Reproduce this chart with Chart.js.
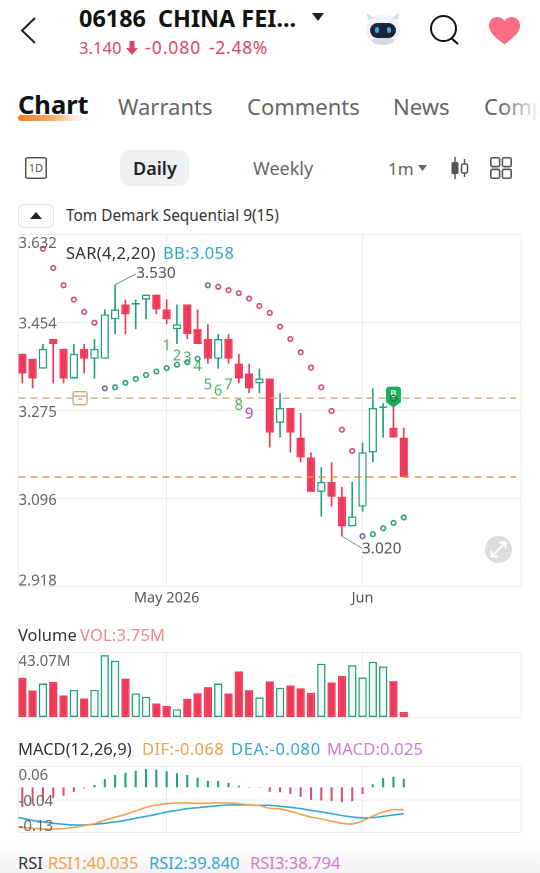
<!DOCTYPE html>
<html><head><meta charset="utf-8">
<script src="https://cdn.jsdelivr.net/npm/chart.js@4/dist/chart.umd.min.js"></script>
<style>
html,body{margin:0;padding:0;background:#fff;width:540px;height:873px;overflow:hidden;font-family:"Noto Sans",sans-serif}
#page{position:relative;width:540px;height:873px;overflow:hidden;background:#fff}
canvas{position:absolute;left:0}
.t{position:absolute;white-space:nowrap;line-height:1;transform:translateY(-50%)}
svg.i{position:absolute;overflow:visible}
#fade{position:absolute;left:0;top:842px;width:540px;height:31px;background:linear-gradient(#fff,#f2f2f2)}
</style></head><body><div id="page">
<div id="fade"></div>
<svg class="i" style="left:20px;top:17px" width="16" height="27"><polyline points="15,1 2,13.5 15,26" fill="none" stroke="#222" stroke-width="2"/></svg>
<span class="t" style="left:79px;top:19px;font-size:23.4px;font-weight:700;color:#111">06186&nbsp; CHINA FEI...</span>
<svg class="i" style="left:312px;top:13px" width="12" height="8"><polygon points="0,0 12,0 6,8" fill="#222"/></svg>
<span class="t" style="left:79px;top:48px;font-size:16.6px;color:#d94a68">3.140</span>
<svg class="i" style="left:126px;top:41px" width="12" height="14"><path d="M3.5 0h5v7h3.5L6 14 0 7h3.5z" fill="#d94a68"/></svg>
<span class="t" style="left:145px;top:48px;font-size:17.5px;letter-spacing:1px;color:#d94a68">-0.080</span>
<span class="t" style="left:209px;top:48px;font-size:17.5px;letter-spacing:.7px;color:#d94a68">-2.48%</span>
<svg class="i" style="left:364px;top:13px" width="38" height="33">
<path d="M5 7 L3 1 L10 5 M33 7 L35 1 L28 5" fill="#d5dde6" stroke="#d5dde6"/>
<ellipse cx="19" cy="17" rx="17" ry="15" fill="#eef1f5"/><ellipse cx="19" cy="28" rx="11" ry="4" fill="#d5dae2"/>
<rect x="6" y="10" width="26" height="15" rx="7.5" fill="#1a2436"/>
<ellipse cx="13" cy="17" rx="2" ry="3" fill="#35b2f5"/><ellipse cx="25" cy="17" rx="2" ry="3" fill="#35b2f5"/></svg>
<svg class="i" style="left:430px;top:15px" width="29" height="30"><circle cx="13.5" cy="13.5" r="12.5" fill="none" stroke="#111" stroke-width="2"/><line x1="21" y1="23" x2="28" y2="29" stroke="#111" stroke-width="2.2"/></svg>
<svg class="i" style="left:489px;top:17px" width="31" height="28"><path d="M15.5 27.5C5 19.5 0 15 0 8.5 0 3.5 3.8 0 8.2 0c3 0 5.7 1.4 7.3 4C17.1 1.4 19.8 0 22.8 0 27.2 0 31 3.5 31 8.5c0 6.5-5 11-15.5 19z" fill="#fd6d85"/></svg>

<div style="position:absolute;left:18px;top:115px;width:64px;height:5.5px;border-radius:4px 0 0 4px;background:linear-gradient(90deg,#f08020,#f5a868 50%,rgba(255,225,200,0))"></div>
<span class="t" style="left:18px;top:105px;font-size:25.5px;font-weight:700;color:#111">Chart</span>
<span class="t" style="left:118px;top:106px;font-size:22px;color:#666">Warrants</span>
<span class="t" style="left:247px;top:106px;font-size:22px;color:#666">Comments</span>
<span class="t" style="left:393px;top:106px;font-size:22px;color:#666">News</span>
<span class="t" style="left:484px;top:106px;font-size:22px;color:#666">Comp</span>
<div style="position:absolute;left:500px;top:90px;width:40px;height:32px;background:linear-gradient(90deg,rgba(255,255,255,0),#fff)"></div>

<svg class="i" style="left:25px;top:157px" width="22" height="22"><rect x=".75" y=".75" width="20.5" height="20.5" rx="2" fill="none" stroke="#555" stroke-width="1.5"/><text x="11" y="15" font-size="11" text-anchor="middle" fill="#555" font-family="Noto Sans">1D</text></svg>
<div style="position:absolute;left:120px;top:150px;width:69px;height:36px;border-radius:10px;background:#eef0f2"></div>
<span class="t" style="left:133px;top:168px;font-size:18px;font-weight:600;color:#222">Daily</span>
<span class="t" style="left:253px;top:168px;font-size:18px;color:#666">Weekly</span>
<span class="t" style="left:388px;top:168px;font-size:17px;color:#666">1m</span>
<svg class="i" style="left:418px;top:165px" width="9" height="6"><polygon points="0,0 9,0 4.5,6" fill="#666"/></svg>
<svg class="i" style="left:450px;top:157px" width="19" height="22"><line x1="5" y1="0" x2="5" y2="22" stroke="#555" stroke-width="1.5"/><rect x="1.5" y="5" width="7" height="12" rx="1.5" fill="#555"/><line x1="14.5" y1="2" x2="14.5" y2="20" stroke="#555" stroke-width="1.5"/><rect x="11.5" y="7" width="6" height="9" rx="1.5" fill="#fff" stroke="#555" stroke-width="1.5"/></svg>
<svg class="i" style="left:490px;top:157px" width="22" height="22" fill="none" stroke="#555" stroke-width="1.6"><rect x=".8" y=".8" width="8.8" height="8.8" rx="1.5"/><rect x="12.4" y=".8" width="8.8" height="8.8" rx="1.5"/><rect x=".8" y="12.4" width="8.8" height="8.8" rx="1.5"/><rect x="12.4" y="12.4" width="8.8" height="8.8" rx="1.5"/></svg>
<div style="position:absolute;left:18px;top:204px;width:34px;height:22px;border:1px solid #e0e0e0;border-radius:6px"></div>
<svg class="i" style="left:30px;top:212px" width="12" height="7"><polygon points="0,7 12,7 6,0" fill="#222"/></svg>
<span class="t" style="left:66px;top:216px;font-size:15.4px;color:#333">Tom Demark Sequential 9(15)</span>

<canvas id="priceChart" style="top:225px" width="540" height="385"></canvas>
<canvas id="volChart" style="top:640px" width="540" height="90"></canvas>
<canvas id="macdChart" style="top:754px" width="540" height="91"></canvas>

<span class="t" style="left:66px;top:253px;font-size:16.5px;letter-spacing:.3px;color:#333">SAR(4,2,20)</span>
<span class="t" style="left:163px;top:253px;font-size:16.5px;letter-spacing:.4px;color:#2fa8d0">BB:3.058</span>
<svg class="i" style="left:484.5px;top:536px" width="27" height="27"><circle cx="13.5" cy="13.5" r="13.5" fill="#dcdcdc"/><g fill="none" stroke="#fff" stroke-width="1.8"><path d="M7 20L20 7M14.5 6.5h6v6M6.5 14.5v6h6"/></g></svg>

<span class="t" style="left:18px;top:635px;font-size:16.5px;color:#333">Volume</span>
<span class="t" style="left:80px;top:635px;font-size:16.5px;letter-spacing:.2px;color:#ee8a8a">VOL:3.75M</span>
<span class="t" style="left:18px;top:749px;font-size:16.5px;color:#333">MACD(12,26,9)</span>
<span class="t" style="left:142px;top:749px;font-size:16.5px;letter-spacing:.4px;color:#f0a050">DIF:-0.068</span>
<span class="t" style="left:231px;top:749px;font-size:16.5px;letter-spacing:.6px;color:#35a8d0">DEA:-0.080</span>
<span class="t" style="left:327px;top:749px;font-size:16.5px;letter-spacing:.2px;color:#d977cf">MACD:0.025</span>
<span class="t" style="left:18px;top:863px;font-size:16.5px;color:#333">RSI</span>
<span class="t" style="left:48px;top:863px;font-size:16.5px;color:#f0a050">RSI1:40.035</span>
<span class="t" style="left:149px;top:863px;font-size:16.5px;color:#35a8d0">RSI2:39.840</span>
<span class="t" style="left:250px;top:863px;font-size:16.5px;color:#d977cf">RSI3:38.794</span>
</div>
<script>
const open_  = [3.39,3.38,3.36,3.42,3.40,3.34,3.40,3.38,3.38,3.46,3.49,3.49,3.50,3.51,3.48,3.44,3.49,3.44,3.42,3.38,3.42,3.37,3.35,3.33,3.34,3.25,3.28,3.22,3.18,3.11,3.13,3.10,3.04,3.08,3.19,3.28,3.24,3.22];
const high_  = [3.39,3.38,3.41,3.42,3.40,3.41,3.41,3.42,3.48,3.53,3.50,3.50,3.51,3.51,3.50,3.49,3.49,3.48,3.45,3.43,3.43,3.39,3.37,3.36,3.34,3.31,3.28,3.27,3.19,3.16,3.17,3.12,3.13,3.21,3.32,3.29,3.30,3.24];
const low_   = [3.33,3.32,3.36,3.33,3.33,3.34,3.35,3.34,3.38,3.43,3.43,3.44,3.46,3.47,3.45,3.41,3.42,3.41,3.37,3.36,3.37,3.33,3.31,3.31,3.20,3.22,3.19,3.17,3.11,3.06,3.08,3.02,3.04,3.07,3.17,3.22,3.22,3.14];
const close_ = [3.35,3.34,3.40,3.41,3.34,3.39,3.38,3.40,3.47,3.48,3.47,3.49,3.51,3.48,3.46,3.45,3.43,3.41,3.38,3.42,3.38,3.34,3.32,3.34,3.23,3.28,3.23,3.18,3.11,3.13,3.10,3.04,3.06,3.19,3.28,3.28,3.22,3.14];
const sar = [null,null,3.603,3.564,3.529,3.500,3.475,3.453,3.320,3.322,3.331,3.339,3.347,3.354,3.361,3.368,3.373,3.380,3.529,3.526,3.519,3.513,3.502,3.487,3.473,3.445,3.420,3.393,3.362,3.322,3.274,3.236,3.193,3.020,3.024,3.036,3.047,3.058];
const sarKind = ['r','r','r','r','r','r','r','r','n','g','g','g','g','g','g','g','g','g','n','r','r','r','r','r','r','r','r','r','r','r','r','r','r','n','g','g','g','g'];
const volume = [26.3,17.9,22.5,23.6,14.6,18.3,12.6,18.3,41.3,37.6,25.8,15.9,13.7,9.3,7.7,5.5,12.4,16.1,20.1,22.5,15.9,30.5,18.1,13.3,23.9,19.7,21.2,19.4,16.3,35.6,23.2,27.6,34.7,26.5,36.9,33.8,24.1,3.75];
const macdHist = [-0.057,-0.049,-0.040,-0.031,-0.024,-0.013,-0.003,0.007,0.024,0.036,0.042,0.048,0.053,0.052,0.047,0.041,0.036,0.028,0.019,0.019,0.013,0.005,-0.001,-0.001,-0.013,-0.014,-0.019,-0.027,-0.036,-0.038,-0.039,-0.043,-0.040,-0.019,0.009,0.027,0.031,0.025];
const dif = [-0.1136,-0.1155,-0.1184,-0.1203,-0.1203,-0.1194,-0.1155,-0.1107,-0.1049,-0.0952,-0.0866,-0.0779,-0.0682,-0.0576,-0.0509,-0.0470,-0.0451,-0.0451,-0.0460,-0.0460,-0.0451,-0.0451,-0.0470,-0.0509,-0.0528,-0.0605,-0.0624,-0.0692,-0.0779,-0.0856,-0.0914,-0.0981,-0.1039,-0.1059,-0.0972,-0.0827,-0.0711,-0.0644,-0.0644];
const dea = [-0.0837,-0.0895,-0.0952,-0.1001,-0.1039,-0.1068,-0.1088,-0.1088,-0.1068,-0.1039,-0.1001,-0.0952,-0.0895,-0.0837,-0.0779,-0.0711,-0.0663,-0.0615,-0.0586,-0.0557,-0.0528,-0.0509,-0.0509,-0.0509,-0.0518,-0.0518,-0.0547,-0.0576,-0.0615,-0.0663,-0.0711,-0.0759,-0.0817,-0.0856,-0.0885,-0.0875,-0.0837,-0.0798,-0.0759];
const tdIndex = [14,15,16,17,18,19,20,21,22];
const tdValue = [3.405,3.385,3.381,3.364,3.326,3.314,3.326,3.285,3.267];
const tdLabel = ['1','2','3','4','5','6','7','8','9'];
const levels = [3.30,3.14];
const priceTicks = [2.918,3.096,3.275,3.454,3.632];
const volTicks = [0,43.07];
const macdTicks = [-0.13,-0.036,0.06];
const xTickValues = [14,33];
const xTickLabels = ['May 2026','Jun'];
const xMin = -0.37, xMax = 48.37, levelEnd = 47.9;

const FONT='"Noto Sans",sans-serif';
const RED='#ee3a58', GREEN='#22a07a', GRID='#ececec';
const up = open_.map((o,i)=>close_[i]>=o);

const xScale = (showLabels,h)=>({
  type:'linear',min:xMin,max:xMax,offset:false,
  border:{display:false},
  grid:{color:GRID,offset:false,drawTicks:false,lineWidth:1},
  ticks:{display:showLabels,autoSkip:false,maxRotation:0,padding:3,color:'#555',font:{family:FONT,size:14.5},
    callback:v=>{const k=xTickValues.indexOf(v);return k<0?'':xTickLabels[k];}},
  afterBuildTicks:s=>{s.ticks=[xMin,...xTickValues,xMax].map(v=>({value:v}));},
  afterFit:s=>{s.height=h;}
});
const yScale = (vals,min,max,fmt)=>({
  type:'linear',min,max,position:'left',
  border:{display:false},
  grid:{color:GRID,drawTicks:false,lineWidth:1},
  ticks:{mirror:true,padding:0,autoSkip:false,color:'#666',z:1,font:{family:FONT,size:15},callback:fmt},
  afterBuildTicks:s=>{s.ticks=vals.map(v=>({value:v}));},
  afterFit:s=>{s.width=0;}
});
const tickShift={id:'tickShift',beforeDraw(c){
  const s=c.scales.y;
  s.getLabelItems().forEach((it,i)=>{
    const v=s.ticks[i].value;
    it.options.translation=[it.options.translation[0],it.options.translation[1]+(v===s.max?9:v===s.min?-5.5:2)];
  });
}};
const common=(pad)=>({responsive:false,animation:false,devicePixelRatio:2,
  layout:{autoPadding:false,padding:pad},events:[]});

const annot={id:'annot',afterDatasetsDraw(c){
  const g=c.ctx,x=c.scales.x,y=c.scales.y;
  // Sequential count numbers
  g.save();g.textAlign='center';g.textBaseline='middle';g.font='15px '+FONT;
  tdIndex.forEach((ix,k)=>{g.fillStyle=tdLabel[k]==='9'?'#c832d8':'#4cb35a';g.fillText(tdLabel[k],x.getPixelForValue(ix+0.0),y.getPixelForValue(tdValue[k]));});
  // high / low callouts
  const hi=Math.max(...high_),lo=Math.min(...low_),hiI=high_.indexOf(hi),loI=low_.indexOf(lo);
  g.strokeStyle='#777';g.lineWidth=.8;g.fillStyle='#555';g.textAlign='left';g.font='15.5px '+FONT;
  let hx=x.getPixelForValue(hiI),hy=y.getPixelForValue(hi);
  g.beginPath();g.moveTo(hx,hy);g.lineTo(hx+21,hy-11);g.stroke();g.fillText(hi.toFixed(3),hx+21,hy-11);
  let lx=x.getPixelForValue(loI),ly=y.getPixelForValue(lo);
  g.beginPath();g.moveTo(lx,ly);g.lineTo(lx+20,ly+12);g.stroke();g.fillText(lo.toFixed(3),lx+20,ly+13);
  // briefcase marker on the upper level
  let bx=x.getPixelForValue(5.6),by=y.getPixelForValue(levels[0]);
  g.fillStyle='#fff';g.strokeStyle='#d2ab78';g.lineWidth=1.3;
  g.beginPath();g.roundRect(bx-7,by-6.5,14,13,2);g.fill();g.stroke();
  g.beginPath();g.moveTo(bx-7,by-2);g.lineTo(bx+7,by-2);g.moveTo(bx-2,by+1);g.lineTo(bx+2,by+1);g.stroke();
  // buy pin at the second-last candle
  let px=x.getPixelForValue(36),py=y.getPixelForValue(levels[0]);
  g.fillStyle='#1cae5a';g.beginPath();g.moveTo(px-7.5,py-8);g.quadraticCurveTo(px-7.5,py-11.5,px-4,py-11.5);g.lineTo(px+4,py-11.5);g.quadraticCurveTo(px+7.5,py-11.5,px+7.5,py-8);g.lineTo(px+7.5,py+4);g.lineTo(px,py+9.5);g.lineTo(px-7.5,py+4);g.closePath();g.fill();
  g.fillStyle='#cfeedd';g.textAlign='center';g.font='700 10px '+FONT;g.fillText('B',px,py-4);
  g.strokeStyle='#2a6b4c';g.lineWidth=1.2;g.beginPath();g.arc(px,py,3,0,Math.PI*2);g.stroke();
  g.restore();
}};

const sarColor={r:'#d6486a',g:'#2d9f7c',n:'#6b7290'};
new Chart(document.getElementById('priceChart'),{
  type:'bar',
  data:{datasets:[
    {type:'line',order:1,data:[{x:xMin,y:levels[0]},{x:levelEnd,y:levels[0]}],borderColor:'#d0ab7a',borderWidth:1.3,borderDash:[7,5],pointRadius:0},
    {type:'line',order:1,data:[{x:xMin,y:levels[1]},{x:levelEnd,y:levels[1]}],borderColor:'#e68a3c',borderWidth:1.3,borderDash:[7,5],pointRadius:0},
    {type:'line',order:2,showLine:false,data:sar.map((v,i)=>({x:i,y:v})),pointRadius:2.3,pointBorderWidth:1.6,pointBackgroundColor:'#fff',pointBorderColor:sarKind.map(k=>sarColor[k])},
    {order:3,grouped:false,data:open_.map((o,i)=>({x:i,y:[Math.min(o,close_[i]),Math.max(o,close_[i])]})),barPercentage:.8,categoryPercentage:1,minBarLength:1.5,
      backgroundColor:up.map(u=>u?'#fff':RED),borderColor:up.map(u=>u?GREEN:RED),borderWidth:1.4,borderSkipped:false},
    {order:4,grouped:false,data:low_.map((l,i)=>({x:i,y:[l,high_[i]]})),barPercentage:.16,categoryPercentage:1,
      backgroundColor:up.map(u=>u?GREEN:RED),borderWidth:0}
  ]},
  options:{...common({left:18.5,right:19,top:9.5,bottom:0}),
    plugins:{legend:{display:false},tooltip:{enabled:false}},
    scales:{x:xScale(true,23.5),y:yScale(priceTicks,priceTicks[0],priceTicks[4],v=>v.toFixed(3))}},
  plugins:[tickShift,annot]
});
new Chart(document.getElementById('volChart'),{
  type:'bar',
  data:{datasets:[{grouped:false,data:volume.map((v,i)=>({x:i,y:v})),barPercentage:.8,categoryPercentage:1,
    backgroundColor:up.map(u=>u?'#f3fbf8':RED),borderColor:up.map(u=>u?GREEN:RED),borderWidth:1.4,borderSkipped:false}]},
  options:{...common({left:18.5,right:19,top:12.5,bottom:12.5}),
    plugins:{legend:{display:false},tooltip:{enabled:false}},
    scales:{x:xScale(false,0),y:yScale(volTicks,0,43.07,v=>v?v.toFixed(2)+'M':'')}},
  plugins:[tickShift]
});
new Chart(document.getElementById('macdChart'),{
  type:'bar',
  data:{datasets:[
    {type:'line',order:1,data:dif.map((v,i)=>({x:i-1,y:v})),borderColor:'#f0a050',borderWidth:1.6,pointRadius:0,tension:.3},
    {type:'line',order:1,data:dea.map((v,i)=>({x:i-1,y:v})),borderColor:'#35a8d0',borderWidth:1.6,pointRadius:0,tension:.3},
    {order:2,grouped:false,data:macdHist.map((v,i)=>({x:i,y:v})),barPercentage:.2,categoryPercentage:1,
      backgroundColor:macdHist.map(v=>v>=0?GREEN:'#d9506e'),borderWidth:0}
  ]},
  options:{...common({left:18.5,right:19,top:12.7,bottom:12.7}),
    plugins:{legend:{display:false},tooltip:{enabled:false}},
    scales:{x:xScale(false,0),y:yScale(macdTicks,-0.13,0.06,v=>v.toFixed(2))}},
  plugins:[tickShift]
});
</script>
</body></html>
